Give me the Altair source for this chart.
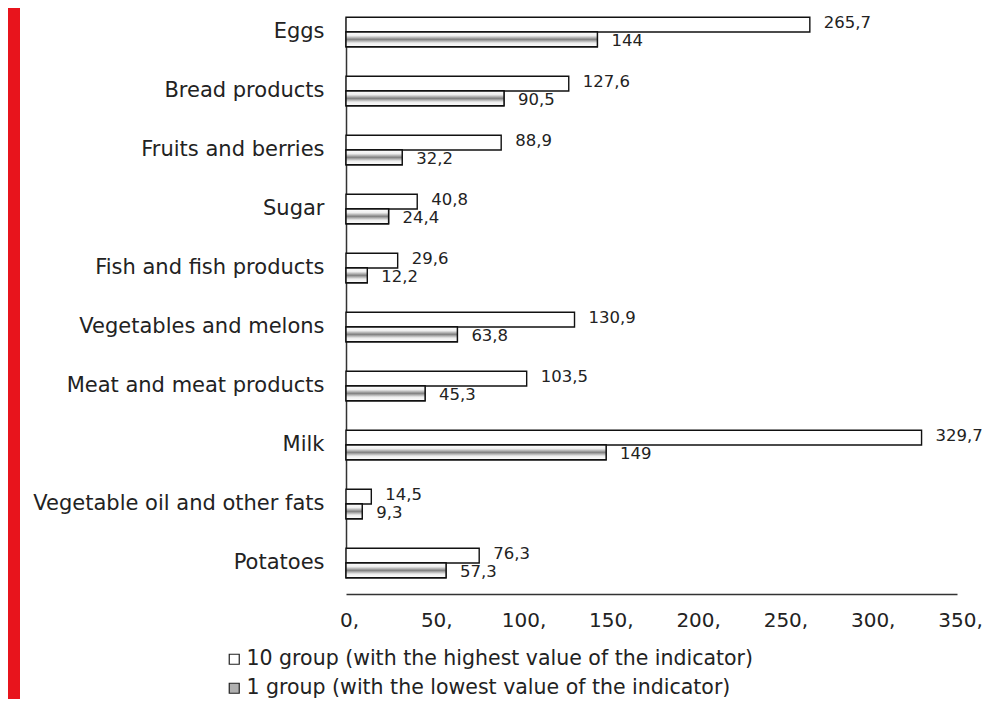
import altair as alt
import pandas as pd

categories = [
    "Eggs", "Bread products", "Fruits and berries", "Sugar",
    "Fish and fish products", "Vegetables and melons",
    "Meat and meat products", "Milk", "Vegetable oil and other fats", "Potatoes",
]
group_high = "10 group (with the highest value of the indicator)"
group_low = "1 group (with the lowest value of the indicator)"
values_high = [265.7, 127.6, 88.9, 40.8, 29.6, 130.9, 103.5, 329.7, 14.5, 76.3]
values_low = [144, 90.5, 32.2, 24.4, 12.2, 63.8, 45.3, 149, 9.3, 57.3]
x_ticks = [0, 50, 100, 150, 200, 250, 300, 350]

rows = []
for c, h, l in zip(categories, values_high, values_low):
    rows.append({"category": c, "group": group_high, "value": h})
    rows.append({"category": c, "group": group_low, "value": l})
df = pd.DataFrame(rows)

FONT = "DejaVu Sans"
groups = [group_high, group_low]

y_enc = alt.Y("category:N", sort=categories,
              scale=alt.Scale(range=[9.25, 569.75], paddingInner=0.5, paddingOuter=0),
              axis=alt.Axis(title=None, ticks=False, tickSize=0, labelPadding=22,
                            labelFontSize=21, labelColor="#222222", labelFont=FONT,
                            domainColor="#333333", domainWidth=1.5, labelLimit=400))
yoff_enc = alt.YOffset("group:N", scale=alt.Scale(domain=groups, paddingInner=0, paddingOuter=0))
x_enc = alt.X("value:Q", scale=alt.Scale(domain=[0, 350], nice=False),
              axis=alt.Axis(title=None, values=x_ticks, ticks=False, tickSize=0, grid=False,
                            labelExpr="datum.label + ','", labelPadding=16, labelFlush=False,
                            labelOffset=3, labelFontSize=20, labelColor="#222222", labelFont=FONT,
                            domainColor="#333333", domainWidth=1.5))

base = alt.Chart(df)

bars = base.mark_bar(stroke="#111111", strokeWidth=1.4).encode(
    y=y_enc, yOffset=yoff_enc, x=x_enc,
    fill=alt.Fill("group:N",
                  scale=alt.Scale(domain=groups, range=["#ffffff", "#b0b0b0"]),
                  legend=alt.Legend(title=None, orient="none", legendX=-122, legendY=641,
                                    direction="vertical", symbolType="square", symbolSize=100,
                                    symbolStrokeColor="#222222", symbolStrokeWidth=1.2,
                                    labelFontSize=20.5, labelFont=FONT, labelColor="#222222",
                                    labelLimit=700, rowPadding=8, labelOffset=2)),
)

gradient = {
    "gradient": "linear", "x1": 0, "y1": 0, "x2": 0, "y2": 1,
    "stops": [
        {"offset": 0.0, "color": "#ffffff"},
        {"offset": 0.25, "color": "#eeeeee"},
        {"offset": 0.5, "color": "#808080"},
        {"offset": 0.75, "color": "#eeeeee"},
        {"offset": 1.0, "color": "#ffffff"},
    ],
}
hatch = base.transform_filter(alt.datum.group == group_low).mark_bar(
    stroke="#111111", strokeWidth=1.4, fill=gradient
).encode(y=y_enc, yOffset=yoff_enc, x=x_enc)

lab_base = base.transform_calculate(label="replace(toString(datum.value), '.', ',')")
labels_high = lab_base.transform_filter(alt.datum.group == group_high).mark_text(
    align="left", baseline="middle", dx=14, dy=-2, fontSize=16.5, font=FONT, color="#222222"
).encode(y=y_enc, yOffset=yoff_enc, x=x_enc, text="label:N")
labels_low = lab_base.transform_filter(alt.datum.group == group_low).mark_text(
    align="left", baseline="middle", dx=14, dy=2, fontSize=16.5, font=FONT, color="#222222"
).encode(y=y_enc, yOffset=yoff_enc, x=x_enc, text="label:N")

red = alt.Chart(alt.Data(values=[{"a": 1}])).mark_rect(color="#e8141c").encode(
    x=alt.value(-338), x2=alt.value(-326), y=alt.value(0), y2=alt.value(691)
)

chart = alt.layer(red, bars, hatch, labels_high, labels_low).properties(
    width=611, height=586, padding=0, background="white"
).configure_view(stroke=None)

chart.save("out.html", embed_options={"renderer": "svg", "actions": False})
